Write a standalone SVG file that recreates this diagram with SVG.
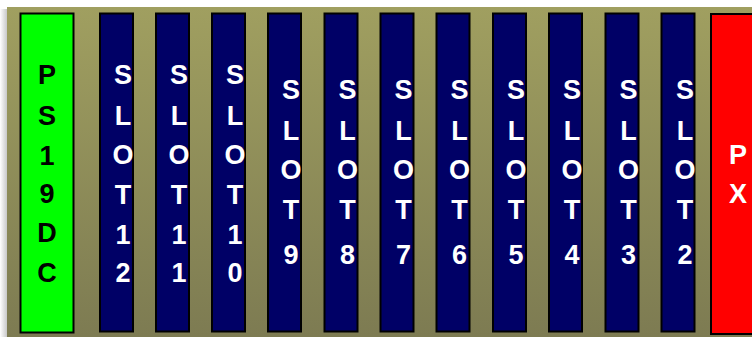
<svg xmlns="http://www.w3.org/2000/svg" width="752" height="337" viewBox="0 0 752 337">
<defs>
<linearGradient id="bg" x1="0" y1="0" x2="0" y2="1">
<stop offset="0" stop-color="#a09f60"/>
<stop offset="1" stop-color="#7d7b52"/>
</linearGradient>
<linearGradient id="sh" x1="0" y1="0" x2="1" y2="0">
<stop offset="0" stop-color="#ffffff"/>
<stop offset="1" stop-color="#c8c8c8"/>
</linearGradient>
</defs>
<style>
.slot{fill:#000066;stroke:#000;stroke-width:2}
.t{font-family:"Liberation Sans",Arial,sans-serif;font-weight:bold;font-size:27px;text-anchor:middle}
.w{fill:#fff}
.k{fill:#000}
</style>
<rect x="0" y="0" width="752" height="337" fill="#fff"/>
<rect x="0" y="9" width="7" height="328" fill="url(#sh)"/>
<rect x="7" y="7" width="745" height="330" fill="url(#bg)"/>
<g id="ps19dc">
<rect x="20.5" y="13.5" width="53" height="319" fill="#00ff00" stroke="#000" stroke-width="2"/>
<text class="t k" x="47" y="84">P</text>
<text class="t k" x="47" y="125">S</text>
<text class="t k" x="47" y="165">1</text>
<text class="t k" x="47" y="203">9</text>
<text class="t k" x="47" y="242">D</text>
<text class="t k" x="47" y="282">C</text>
</g>
<g id="slot12">
<rect class="slot" x="100" y="13.5" width="33" height="318"/>
<text class="t w" x="123" y="84">S</text><text class="t w" x="123" y="125">L</text><text class="t w" x="123" y="164">O</text><text class="t w" x="123" y="204">T</text><text class="t w" x="123" y="244">1</text><text class="t w" x="123" y="282">2</text>
</g>
<g id="slot11">
<rect class="slot" x="156" y="13.5" width="33" height="318"/>
<text class="t w" x="179" y="84">S</text><text class="t w" x="179" y="125">L</text><text class="t w" x="179" y="164">O</text><text class="t w" x="179" y="204">T</text><text class="t w" x="179" y="244">1</text><text class="t w" x="179" y="282">1</text>
</g>
<g id="slot10">
<rect class="slot" x="212" y="13.5" width="33" height="318"/>
<text class="t w" x="235" y="84">S</text><text class="t w" x="235" y="125">L</text><text class="t w" x="235" y="164">O</text><text class="t w" x="235" y="204">T</text><text class="t w" x="235" y="244">1</text><text class="t w" x="235" y="282">0</text>
</g>
<g id="slot9">
<rect class="slot" x="268" y="13.5" width="33" height="318"/>
<text class="t w" x="291" y="99">S</text><text class="t w" x="291" y="140">L</text><text class="t w" x="291" y="179">O</text><text class="t w" x="291" y="219">T</text><text class="t w" x="291" y="264">9</text>
</g>
<g id="slot8">
<rect class="slot" x="324.5" y="13.5" width="33" height="318"/>
<text class="t w" x="347.5" y="99">S</text><text class="t w" x="347.5" y="140">L</text><text class="t w" x="347.5" y="179">O</text><text class="t w" x="347.5" y="219">T</text><text class="t w" x="347.5" y="264">8</text>
</g>
<g id="slot7">
<rect class="slot" x="380.5" y="13.5" width="33" height="318"/>
<text class="t w" x="403.5" y="99">S</text><text class="t w" x="403.5" y="140">L</text><text class="t w" x="403.5" y="179">O</text><text class="t w" x="403.5" y="219">T</text><text class="t w" x="403.5" y="264">7</text>
</g>
<g id="slot6">
<rect class="slot" x="436.5" y="13.5" width="33" height="318"/>
<text class="t w" x="459.5" y="99">S</text><text class="t w" x="459.5" y="140">L</text><text class="t w" x="459.5" y="179">O</text><text class="t w" x="459.5" y="219">T</text><text class="t w" x="459.5" y="264">6</text>
</g>
<g id="slot5">
<rect class="slot" x="493" y="13.5" width="33" height="318"/>
<text class="t w" x="516" y="99">S</text><text class="t w" x="516" y="140">L</text><text class="t w" x="516" y="179">O</text><text class="t w" x="516" y="219">T</text><text class="t w" x="516" y="264">5</text>
</g>
<g id="slot4">
<rect class="slot" x="549" y="13.5" width="33" height="318"/>
<text class="t w" x="572" y="99">S</text><text class="t w" x="572" y="140">L</text><text class="t w" x="572" y="179">O</text><text class="t w" x="572" y="219">T</text><text class="t w" x="572" y="264">4</text>
</g>
<g id="slot3">
<rect class="slot" x="605.5" y="13.5" width="33" height="318"/>
<text class="t w" x="628.5" y="99">S</text><text class="t w" x="628.5" y="140">L</text><text class="t w" x="628.5" y="179">O</text><text class="t w" x="628.5" y="219">T</text><text class="t w" x="628.5" y="264">3</text>
</g>
<g id="slot2">
<rect class="slot" x="661.5" y="13.5" width="33" height="318"/>
<text class="t w" x="685" y="99">S</text><text class="t w" x="685" y="140">L</text><text class="t w" x="685" y="179">O</text><text class="t w" x="685" y="219">T</text><text class="t w" x="685" y="264">2</text>
</g>
<g id="px">
<rect x="711" y="14" width="50" height="320" fill="#ff0000" stroke="#000" stroke-width="2"/>
<text class="t w" x="738" y="164">P</text>
<text class="t w" x="738" y="203">X</text>
</g>
<g id="connectors"/>
</svg>
